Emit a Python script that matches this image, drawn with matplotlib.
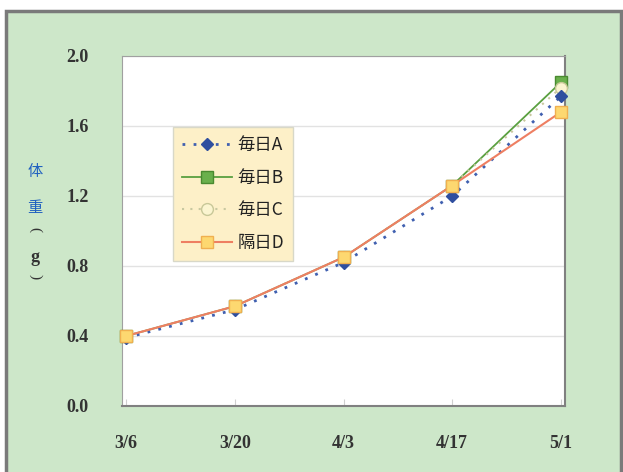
import matplotlib.pyplot as plt
from matplotlib.patches import Rectangle

# データ
dates = ['3/6', '3/20', '4/3', '4/17', '5/1']
weight_a = [0.39, 0.55, 0.82, 1.20, 1.77]
weight_b = [0.40, 0.57, 0.85, 1.26, 1.85]
weight_c = [0.40, 0.57, 0.85, 1.26, 1.82]
weight_d = [0.40, 0.57, 0.85, 1.26, 1.68]
labels = ['毎日A', '毎日B', '毎日C', '隔日D']
yticks = [0.0, 0.4, 0.8, 1.2, 1.6, 2.0]

W, H = 623, 472
plt.rcParams['font.family'] = ['Noto Sans CJK JP', 'DejaVu Sans']

fig = plt.figure(figsize=(W / 100, H / 100), dpi=100)
fig.patch.set_facecolor('white')

# 背景の緑の枠
bg = Rectangle((6 / W, -0.01), 615 / W, 1 - 11 / H + 0.01, transform=fig.transFigure,
               facecolor='#cde7c9', edgecolor='#7a7a7a', linewidth=2.5, zorder=-10)
fig.patches.append(bg)

ax = fig.add_axes([122 / W, 1 - 406 / H, 443 / W, 350 / H])
ax.set_facecolor('white')

x = list(range(len(dates)))
ax.plot(x, weight_a, color='#4060b0', linestyle=(0, (1, 3)), linewidth=2,
        marker='D', markersize=6.5, markerfacecolor='#2f4f9f', markeredgecolor='#2f4f9f',
        label=labels[0], zorder=5, clip_on=False)
ax.plot(x, weight_b, color='#5aa040', linewidth=1.3,
        marker='s', markersize=8.5, markerfacecolor='#6ab04c', markeredgecolor='#4a8a30',
        label=labels[1], zorder=3, clip_on=False)
ax.plot(x, weight_c, color='#c8c8a0', linestyle=(0, (1, 3)), linewidth=1.5,
        marker='o', markersize=8.5, markerfacecolor='#fbf5d0', markeredgecolor='#c8c898',
        label=labels[2], zorder=4, clip_on=False)
ax.plot(x, weight_d, color='#ee7f62', linewidth=1.5,
        marker='s', markersize=9, markerfacecolor='#fdd870', markeredgecolor='#f0b050',
        label=labels[3], zorder=6, clip_on=False)

ax.set_xlim(-0.037, 4.037)
ax.set_ylim(0, 2.0)
ax.set_xticks(x)
ax.set_xticklabels(dates)
ax.set_yticks(yticks)
ax.set_yticklabels([f'{v:.1f}' for v in yticks])
ax.yaxis.grid(True, color='#e2e2e2', linewidth=1)
ax.set_axisbelow(True)

for lab in ax.get_xticklabels() + ax.get_yticklabels():
    lab.set_family('Liberation Serif')
    lab.set_fontweight('bold')
    lab.set_fontsize(13)
    lab.set_color('#333333')

ax.tick_params(axis='x', direction='in', length=5, color='#d0d0d0', pad=21)
ax.tick_params(axis='y', length=0, pad=24)

for side in ['top', 'left']:
    ax.spines[side].set_color('#a0a0a0')
for side in ['bottom', 'right']:
    ax.spines[side].set_color('#808080')
    ax.spines[side].set_linewidth(1.5)

leg = ax.legend(loc='upper left', bbox_to_anchor=(173 / W, 1 - 127 / H),
                bbox_transform=fig.transFigure, fontsize=12.5, handlelength=2.9,
                handletextpad=0.3, labelspacing=0.85, borderpad=0.51,
                borderaxespad=0, fancybox=False, framealpha=1)
leg.get_frame().set_facecolor('#fdf0c8')
leg.get_frame().set_edgecolor('#d8d8c8')
leg.set_zorder(10)
for t in leg.get_texts():
    t.set_color('#222222')

# 縦書きの軸ラベル
fig.text(35 / W, 1 - 172 / H, '体', color='#2060c0', fontsize=11, ha='center', va='center')
fig.text(35 / W, 1 - 208 / H, '重', color='#2060c0', fontsize=11, ha='center', va='center')
fig.text(35 / W, 1 - 230 / H, '(', color='#333333', fontsize=11, rotation=-90,
         ha='center', va='center', family='Liberation Serif')
fig.text(35 / W, 1 - 257 / H, 'g', color='#333333', fontsize=13, fontweight='bold',
         ha='center', va='center', family='Liberation Serif')
fig.text(35 / W, 1 - 277 / H, ')', color='#333333', fontsize=11, rotation=-90,
         ha='center', va='center', family='Liberation Serif')

fig.savefig('out.png', dpi=100)
